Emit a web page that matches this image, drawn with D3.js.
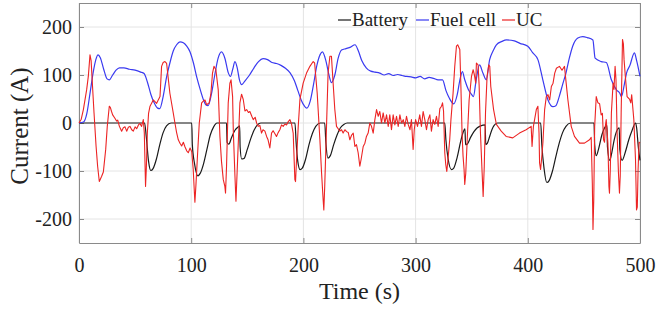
<!DOCTYPE html>
<html>
<head>
<meta charset="utf-8">
<script src="https://cdn.jsdelivr.net/npm/d3@7"></script>
<style>
  body { margin: 0; background: #fff; }
  svg { display: block; }
</style>
</head>
<body>
<div id="chart"></div>
<script>
// series names + colours
const seriesNames = ["Battery", "Fuel cell", "UC"];
const seriesColors = ["#1a1a1a", "#3a3af0", "#ec2424"];

const xTicks = [0, 100, 200, 300, 400, 500];
const yTicks = [-200, -100, 0, 100, 200];

// [time (s), current (A)]
const battery = [[0,0],[58.5,0],[60,-30],[62,-80],[64,-99],[66,-95],[69,-75],[72,-45],[75,-20],[78,-6],[82,0],
  [100.5,0],[101,-45],[103,-85],[106,-110],[108,-105],[111,-85],[114,-55],[117,-25],[120,-8],[123,0],
  [131.5,0],[132,-40],[133.5,-44],[136,-30],[139,-15],[142,-8],[143.2,-6],[143.6,-50],[145,-75],[147,-74],[150,-55],[153,-33],[156,-15],[159,-4],[162,0],
  [192.5,0],[193.5,-40],[195,-80],[197,-97],[199,-94],[202,-75],[205,-45],[208,-22],[211,-7],[215,0],
  [219,0],[220,-40],[222,-73],[224,-68],[227,-45],[230,-25],[233,-10],[236,-3],[239,0],
  [326,0],[327,-35],[329,-75],[332,-97],[334,-94],[337,-72],[340,-40],[342,-22],[344,-12],[344.5,-45],[346,-44],[349,-30],[352,-18],[355,-10],[358,-6],[362,-4],[362.5,-45],[364,-42],[366,-28],[368,-14],[370,-5],[373,0],
  [411.5,0],[412.5,-45],[414.5,-95],[417,-124],[419,-120],[422,-100],[425,-70],[428,-42],[431,-20],[434,-7],[438,0],
  [459,0],[459.6,-45],[461,-68],[463,-55],[466,-25],[469,-8],[470.5,-5],[471,-50],[473,-78],[475,-60],[477,-35],[479,-18],[481.5,-10],[482,-55],[484,-78],[487,-60],[490,-35],[493,-15],[496,0],[497,-10],[498.5,-50],[500,-78]];

const fuelCell = [[0,0],[4,2],[7,20],[10,65],[13,110],[15,132],[17,142],[19,136],[22,112],[25,92],[27,90],[30,100],[33,110],[36,115],[40,115],[45,112],[50,110],[55,106],[58,103],[61,85],[64,60],[67,42],[70,31],[72,30],[75,55],[78,95],[81,125],[84,150],[87,163],[90,169],[93,167],[96,160],[99,148],[102,125],[105,95],[108,70],[111,48],[113,38],[115,36],[118,60],[121,100],[124,135],[127,148],[130,135],[133,105],[135,97],[137,112],[139,128],[141,115],[143,90],[145,80],[148,88],[152,100],[156,115],[160,128],[164,134],[168,132],[172,126],[176,124],[180,120],[184,114],[188,105],[192,88],[195,68],[198,48],[201,35],[203,31],[206,45],[209,80],[212,120],[215,143],[217,148],[220,130],[223,98],[225,84],[228,100],[231,135],[234,152],[238,155],[242,158],[246,163],[249,150],[252,130],[256,115],[260,108],[264,106],[268,104],[272,100],[276,103],[280,99],[284,101],[288,99],[292,97],[296,96],[300,94],[304,97],[308,92],[312,95],[316,93],[320,90],[324,90],[327,68],[330,52],[334,40],[337,58],[339.5,90],[341.7,107],[343.8,90],[347,70],[350,59],[351.5,55],[354,90],[357,121],[360,104],[363,90],[366,132],[369,150],[372,163],[377,170],[381,173],[388,171],[393,166],[400,160],[404.5,146],[409,132],[413.4,90],[418,48],[422.4,34],[425,36],[428,55],[431,80],[434,104],[437,135],[440,160],[444.6,177],[449,180],[453,178],[458,173],[460,135],[465.4,128],[470,126],[474.5,90],[479,69],[482,62],[483.5,55],[486,80],[488,104],[491,120],[495,146],[497,130],[500,97]];

const uc = [[0,0],[2,8],[3.9,28],[6.8,69],[8.3,97],[9.8,142],[10.8,130],[11.9,83],[13.4,21],[15.2,-48],[16.6,-90],[18.1,-122],[20.2,-111],[21.7,-102],[23.8,-55],[25.2,-7],[27,35],[28,32],[29,24],[30,17],[32,10],[33.5,4],[34.5,6],[36,-7],[37,-12],[38,-17],[39.5,-10],[41,-8],[42.5,-17],[44,-9],[45.4,-7],[47,-14],[48.4,-17],[50,-8],[51.4,-12],[53,-4],[54.3,-1],[55.8,-7],[57.3,7],[58.2,-20],[59.3,-132],[60,-95],[60.9,-21],[62,20],[63.3,35],[66.2,48],[69.2,41],[72.2,55],[73.6,118],[75,126],[76.6,128],[78.1,124],[81,62],[84,21],[85.5,0],[87,-20],[88.5,-35],[90,-42],[91.5,-48],[93,-40],[94.5,-50],[96,-58],[97.4,-62],[99,-52],[100.5,-60],[101.8,-97],[102.4,-125],[103.3,-165],[104.2,-130],[105.4,-77],[107.2,0],[109.3,42],[111,46],[112.3,48],[113.7,38],[116,42],[117.5,60],[119,104],[120.3,118],[122,111],[124.1,69],[125.6,-28],[127,-80],[128.6,-118],[130,-132],[130.6,-146],[131.5,-90],[133,42],[134.5,83],[135.5,90],[136.9,55],[137.5,-14],[139,-111],[139.9,-163],[141.3,-80],[143.4,42],[144.9,60],[146.4,49],[147.9,25],[149.4,28],[151,22],[152.3,24],[154,14],[155.3,7],[157,12],[158.3,0],[159.7,-7],[161.2,-5],[162.7,-21],[164,-14],[165.7,-17],[167.2,-28],[168.5,-35],[170.1,-52],[171.6,-21],[173,-16],[174.5,-22],[176,-28],[177.5,-20],[179,-14],[180.5,-4],[182,-7],[183.5,-2],[185,-4],[186.5,3],[188,7],[189.4,-2],[190.9,-21],[192.4,-118],[193,-122],[193.9,-76],[195.4,-7],[196.9,49],[199.8,83],[202.8,104],[205.8,118],[208.7,128],[210,125],[212.3,62],[214.7,-35],[216.2,-104],[217.6,-160],[218.2,-181],[219,-132],[220.6,-7],[222,104],[223.6,139],[225,139],[226.5,83],[228,28],[229.5,-7],[231,-12],[232.5,-17],[234,-14],[235.4,-21],[237,-14],[238.5,-18],[240,-20],[241.4,-35],[243,-25],[244.4,-21],[245.9,-49],[247.3,-45],[248.8,-62],[250.3,-90],[251.5,-75],[253.3,-49],[254.8,-42],[256.2,-28],[257.7,-21],[259.2,0],[260.7,-7],[262.2,-21],[263.7,7],[265.2,28],[266.7,14],[268.1,24],[269.6,0],[271.1,21],[272.6,0],[274.1,17],[275.6,-7],[277,17],[278.5,-14],[280,17],[281.5,-4],[283,14],[284.5,-7],[286,17],[287.5,0],[289,7],[290.4,-7],[291.9,14],[293.4,-3],[295,-14],[296.3,7],[297.8,-55],[298.8,-14],[300,7],[301.7,-7],[303.7,17],[305.2,-7],[306.7,24],[308.2,7],[309.7,-14],[311.2,7],[312.7,17],[314.1,-17],[315.6,7],[317.1,-3],[318.6,14],[320.1,-7],[321.6,30],[323.1,35],[324,42],[324.9,25],[326,-62],[326.9,-87],[327.8,-101],[328.7,-80],[330.4,-35],[331.5,7],[333.4,62],[334.9,118],[336.4,160],[337.5,163],[339.4,153],[340.3,83],[341.4,-21],[342.3,-69],[343.2,-97],[343.8,-128],[344.7,-105],[346,-35],[347.7,48],[349.8,97],[351.3,111],[352.4,100],[353.6,83],[354.2,125],[355.7,121],[356.6,80],[357.8,-21],[359.3,-104],[360.2,-153],[361.2,-90],[362.3,21],[363.7,97],[365.2,121],[366.1,118],[367,76],[369.5,28],[372,-3],[376.3,-17],[380.7,-28],[386.6,-31],[392.6,-21],[398.5,-14],[403,-7],[403.8,-49],[405,-7],[407.6,28],[409,35],[410,-21],[410.5,-83],[411.4,-97],[412.3,-75],[413.5,-40],[415,28],[416.5,55],[418,59],[419.5,48],[421,76],[422.5,83],[424,104],[425.5,114],[428.2,118],[430.5,110],[432.7,118],[434.2,83],[435.7,49],[438.7,-7],[441.6,-28],[446.1,-42],[450.5,-42],[455,-35],[456.5,-30],[457.5,-125],[458.1,-222],[458.8,-160],[459.6,-7],[461,55],[462.5,42],[464,40],[465.4,17],[466.5,20],[467.5,-35],[468.4,-40],[469.2,-5],[469.9,7],[471.4,-42],[472.3,-132],[472.8,-146],[473.5,-100],[474.5,21],[476,83],[476.8,70],[477.8,118],[478.6,90],[479.6,-21],[480.8,-104],[481.7,-146],[482.4,-110],[483.2,20],[484.4,174],[485.2,165],[485.8,132],[487,95],[488.5,55],[490.8,49],[491.8,42],[492.6,59],[494.5,7],[496,-76],[496.9,-181],[497.6,-175],[498.3,-97],[499.2,-40],[500,-42]];

const WIDTH = 658;
const HEIGHT = 311;
const margin = { left: 79, right: 18, top: 3, bottom: 68 };
const FONT = "Liberation Serif, Times New Roman, serif";

const svg = d3.select("#chart").append("svg")
  .attr("width", WIDTH).attr("height", HEIGHT);

const x = d3.scaleLinear().domain([0, 500]).range([margin.left, WIDTH - margin.right]);
const y = d3.scaleLinear().domain([-250, 250]).range([HEIGHT - margin.bottom, margin.top]);

// grid
svg.append("g").selectAll("line").data(xTicks).enter().append("line")
  .attr("x1", d => x(d)).attr("x2", d => x(d))
  .attr("y1", y(-250)).attr("y2", y(250))
  .attr("stroke", "#e4e4e4").attr("stroke-width", 1);
svg.append("g").selectAll("line").data(yTicks).enter().append("line")
  .attr("x1", x(0)).attr("x2", x(500))
  .attr("y1", d => y(d)).attr("y2", d => y(d))
  .attr("stroke", "#e4e4e4").attr("stroke-width", 1);

// axes, ticks pointing inwards (plain hyphen minus like the figure)
const fmt = d => String(d);
const styleAxis = g => {
  g.attr("font-family", FONT).attr("font-size", 20);
  g.select(".domain").attr("stroke", "#8a8a8a");
  g.selectAll(".tick line").attr("stroke", "#8a8a8a");
  g.selectAll(".tick text").attr("fill", "#222");
};
svg.append("g").attr("transform", `translate(0,${y(-250)})`)
  .call(d3.axisBottom(x).tickValues(xTicks).tickFormat(fmt).tickSizeInner(-5).tickSizeOuter(0).tickPadding(15))
  .call(styleAxis);
svg.append("g").attr("transform", `translate(${x(0)},0)`)
  .call(d3.axisLeft(y).tickValues(yTicks).tickFormat(fmt).tickSizeInner(-5).tickSizeOuter(0).tickPadding(7))
  .call(styleAxis);
svg.append("g").attr("transform", `translate(0,${y(250)})`)
  .call(d3.axisTop(x).tickValues(xTicks).tickSizeInner(-5).tickSizeOuter(0).tickFormat(""))
  .call(styleAxis);
svg.append("g").attr("transform", `translate(${x(500)},0)`)
  .call(d3.axisRight(y).tickValues(yTicks).tickSizeInner(-5).tickSizeOuter(0).tickFormat(""))
  .call(styleAxis);

// lines
const line = d3.line().x(d => x(d[0])).y(d => y(d[1]));
const allSeries = [battery, fuelCell, uc];
allSeries.forEach((s, i) => {
  svg.append("path").datum(s)
    .attr("d", line.curve(i === 2 ? d3.curveLinear : d3.curveMonotoneX))
    .attr("fill", "none")
    .attr("stroke", seriesColors[i])
    .attr("stroke-width", i === 2 ? 1.1 : 1.2)
    .attr("stroke-linejoin", "round");
});

// legend
const legendX = [338, 416, 502];
const leg = svg.append("g").attr("font-family", FONT).attr("font-size", 19);
seriesNames.forEach((name, i) => {
  leg.append("line")
    .attr("x1", legendX[i]).attr("x2", legendX[i] + 13)
    .attr("y1", 20).attr("y2", 20)
    .attr("stroke", seriesColors[i]).attr("stroke-width", 1.2);
  leg.append("text")
    .attr("x", legendX[i] + 14).attr("y", 26)
    .attr("fill", "#222")
    .text(name);
});

// axis titles
svg.append("text")
  .attr("x", x(250)).attr("y", 299)
  .attr("text-anchor", "middle")
  .attr("font-family", FONT).attr("font-size", 24)
  .attr("fill", "#222")
  .text("Time (s)");
svg.append("text")
  .attr("transform", `translate(28,${y(0) + 3}) rotate(-90)`)
  .attr("text-anchor", "middle")
  .attr("font-family", FONT).attr("font-size", 25)
  .attr("fill", "#222")
  .text("Current (A)");
</script>
</body>
</html>
